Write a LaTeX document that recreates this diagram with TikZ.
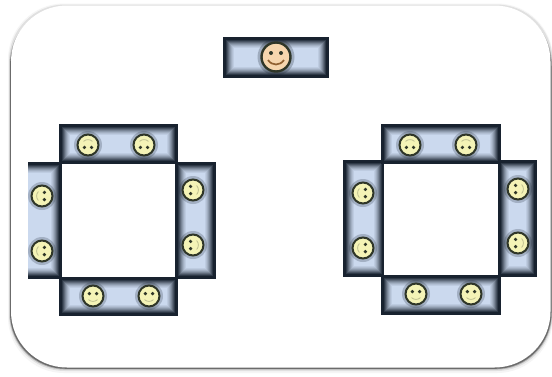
\documentclass[tikz,border=0pt]{standalone}
\usetikzlibrary{calc}
\definecolor{edgedark}{HTML}{18222F}
\definecolor{seatblue}{HTML}{CBD9EE}
\definecolor{faceline}{HTML}{2F3628}
\definecolor{faceyellow}{HTML}{F4F3B6}
\definecolor{facepeach}{HTML}{F6D6AE}
\tikzset{
  x=1pt,y=-1pt,
  seatface/.style={circle,draw=faceline,line width=2pt,minimum size=21pt,inner sep=0pt,fill=faceyellow}
}
% bench: x1 y1 x2 y2
\newcommand{\bench}[4]{%
  \fill[edgedark] (#1,#2) rectangle (#3,#4);
  \foreach \i/\m in {3/12,4/26,5/40,6/54,7/66,8/77,9/86,10/93,11/100}{%
    \fill[seatblue!\m!edgedark] (#1+\i,#2+\i) rectangle (#3-\i,#4-\i);
  }%
}
% bench whose left side stays open: x1 y1 x2 y2
\newcommand{\openbench}[4]{%
  \fill[edgedark] (#1,#2) rectangle (#3,#4);
  \foreach \i/\m in {3/12,4/26,5/40,6/54,7/66,8/77,9/86,10/93,11/100}{%
    \fill[seatblue!\m!edgedark] (#1,#2+\i) rectangle (#3-\i,#4-\i);
  }%
}
% face: name x y rotation
\newcommand{\seat}[4]{%
  \fill[edgedark,opacity=.22] (#2,#3) circle (14);
  \node[seatface] (#1) at (#2,#3) {};
  \begin{scope}[shift={(#2,#3)},rotate=#4]
    \fill[faceline] (-3.6,-2.4) circle (1.8);
    \fill[faceline] (3.6,-2.4) circle (1.8);
    \draw[faceline!30!faceyellow,line width=.7pt] (-4.5,3.6) .. controls (-2,6) and (2,6) .. (4.5,3.6);
  \end{scope}
}
\begin{document}
\begin{tikzpicture}
\useasboundingbox (0,0) rectangle (552,376);
\fill[white] (0,0) rectangle (552,376);
% panel shadow and body
\fill[black!4,rounded corners=56pt] (8,3.5) rectangle (553,373);
\fill[black!12,rounded corners=56pt] (9,4.5) rectangle (552.5,371);
\fill[black!30,rounded corners=56pt] (9.5,8) rectangle (552,369.6);
\fill[black!58,rounded corners=56pt] (10,10) rectangle (551.5,368.8);
\fill[white,rounded corners=56pt] (11,5.5) rectangle (550.5,367.5);
% presenter
\bench{223}{37}{329}{78}
\fill[edgedark,opacity=.25] (276,57) circle (18.5);
\node[seatface,fill=facepeach,minimum size=29pt,line width=2.4pt] (presenter) at (276,57) {};
\begin{scope}[shift={(276,57)}]
  \fill[faceline] (-5,-4) circle (2);
  \fill[faceline] (5,-4) circle (2);
  \draw[brown!75!black,line width=1.7pt] (-8,3) .. controls (-4,9) and (4,9) .. (8,3);
\end{scope}
% left table
\openbench{28}{162}{62}{279}
\bench{175}{162}{216}{279}
\bench{59}{124}{178}{164}
\bench{59}{277}{178}{316}
\fill[white] (62,164) rectangle (175,277);
\seat{a1}{88}{145}{180}
\seat{a2}{144}{145}{180}
\seat{a3}{42}{196}{-90}
\seat{a4}{42}{251}{-90}
\seat{a5}{193}{190}{90}
\seat{a6}{193}{245}{90}
\seat{a7}{93}{296}{0}
\seat{a8}{149}{296}{0}
% right table
\bench{343}{160}{385}{277}
\bench{498}{160}{537}{277}
\bench{381}{124}{501}{164}
\bench{381}{275}{501}{315}
\fill[white] (384,164) rectangle (497,275);
\seat{b1}{410}{145}{180}
\seat{b2}{466}{145}{180}
\seat{b3}{363}{193}{-90}
\seat{b4}{363}{248}{-90}
\seat{b5}{518}{189}{90}
\seat{b6}{518}{243}{90}
\seat{b7}{416}{294}{0}
\seat{b8}{471}{294}{0}
\end{tikzpicture}
\end{document}
